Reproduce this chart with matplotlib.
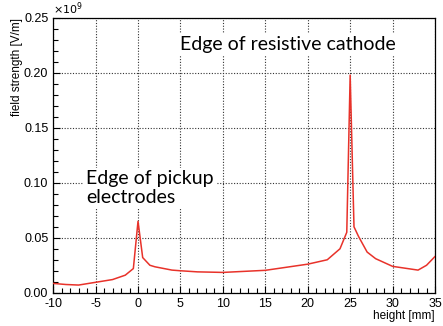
import matplotlib
matplotlib.use("Agg")
import matplotlib.pyplot as plt
from matplotlib.ticker import MultipleLocator, FormatStrFormatter

plt.rcParams['axes.unicode_minus'] = False
plt.rcParams['font.family'] = ['Liberation Sans', 'DejaVu Sans']

# field strength along height, in units of 1e9 V/m
height_mm = [-10, -8.5, -7, -5, -3, -1.5, -0.55, 0, 0.55, 1.4, 2, 4, 5, 7,
             10, 15, 20, 22.3, 23.8, 24.6, 25, 25.45, 26, 27, 28, 30, 33,
             34, 35]
field = [0.0085, 0.0075, 0.007, 0.0095, 0.012, 0.016, 0.022, 0.065, 0.032,
         0.025, 0.0236, 0.0206, 0.020, 0.019, 0.0185, 0.0204, 0.026, 0.030,
         0.040, 0.055, 0.198, 0.060, 0.051, 0.037, 0.031, 0.024, 0.0206,
         0.025, 0.033]

fig = plt.figure(figsize=(4.43, 3.26), dpi=100)
ax = fig.add_axes([0.12, 0.102, 0.862, 0.843])

ax.plot(height_mm, field, color='#e8322a', lw=1.1, zorder=3)

ax.set_xlim(-10, 35)
ax.set_ylim(0, 0.25)
ax.xaxis.set_major_locator(MultipleLocator(5))
ax.xaxis.set_minor_locator(MultipleLocator(1))
ax.yaxis.set_major_locator(MultipleLocator(0.05))
ax.yaxis.set_minor_locator(MultipleLocator(0.01))
ax.yaxis.set_major_formatter(FormatStrFormatter('%.2f'))
ax.tick_params(which='both', direction='in', labelsize=9, width=0.8)
ax.tick_params(which='major', length=5)
ax.tick_params(which='minor', length=3.5)
ax.grid(True, which='major', ls=(0, (1, 1.5)), color='#333333', lw=0.8)
for s in ax.spines.values():
    s.set_linewidth(0.9)

ax.text(0.0, 1.005, r'$\times10^{9}$', transform=ax.transAxes, fontsize=8,
        ha='left', va='bottom')
ax.set_xlabel('height [mm]', fontsize=8.5, loc='right', labelpad=0)
ax.set_ylabel('field strength [V/m]', fontsize=8.5, loc='top', labelpad=1)

box = dict(facecolor='white', edgecolor='none', pad=2)
ax.text(-6.1, 0.095, 'Edge of pickup\nelectrodes', fontsize=14,
        family=['Lato', 'DejaVu Sans'], ha='left', va='center',
        linespacing=1.15, bbox=box, zorder=4)
ax.text(5.0, 0.226, 'Edge of resistive cathode', fontsize=14,
        family=['Lato', 'DejaVu Sans'], ha='left', va='center',
        bbox=box, zorder=4)

fig.savefig('out.png', dpi=100)
